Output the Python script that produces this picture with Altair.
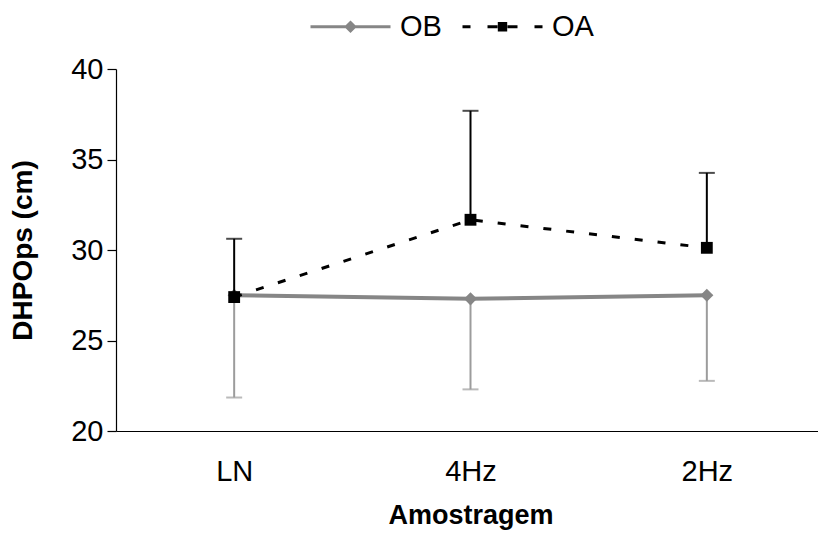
import altair as alt
import pandas as pd

categories = ["LN", "4Hz", "2Hz"]
series_names = ["OB", "OA"]
ob_mean = [27.5, 27.3, 27.5]
ob_low = [21.85, 22.3, 22.77]
oa_mean = [27.4, 31.67, 30.12]
oa_high = [30.62, 37.69, 34.26]

y_ticks = [20, 25, 30, 35, 40]

rows = []
for c, m, e in zip(categories, ob_mean, ob_low):
    rows.append({"cat": c, "series": "OB", "mean": m, "err": e})
for c, m, e in zip(categories, oa_mean, oa_high):
    rows.append({"cat": c, "series": "OA", "mean": m, "err": e})
df = pd.DataFrame(rows)

FONT = "Liberation Sans"
GREY = "#868686"
GREY_ERR = "#9c9c9c"

x_enc = alt.X(
    "cat:N",
    sort=categories,
    scale=alt.Scale(type="point", padding=0.5),
    axis=alt.Axis(
        title="Amostragem",
        labelAngle=0,
        ticks=False,
        labelPadding=26,
        titlePadding=16,
        labelFontSize=29,
        titleFontSize=27,
        labelFont=FONT,
        titleFont=FONT,
        titleFontWeight="bold",
        labelColor="black",
        titleColor="black",
        domainColor="black",
        domainWidth=1.2,
    ),
)
y_scale = alt.Scale(domain=[20, 40], nice=False, zero=False)
y_axis = alt.Axis(
    title="DHPOps (cm)",
    values=y_ticks,
    tickSize=9,
    tickColor="black",
    tickWidth=1.2,
    labelPadding=4,
    titlePadding=33,
    labelFontSize=29,
    titleFontSize=28,
    labelFont=FONT,
    titleFont=FONT,
    titleFontWeight="bold",
    labelColor="black",
    titleColor="black",
    domainColor="black",
    domainWidth=1.2,
    grid=False,
)
y_enc = alt.Y("mean:Q", scale=y_scale, axis=y_axis)

base = alt.Chart(df).encode(x=x_enc)
ob = base.transform_filter(alt.datum.series == "OB")
oa = base.transform_filter(alt.datum.series == "OA")

ob_rule = ob.mark_rule(color=GREY_ERR, strokeWidth=2).encode(y=y_enc, y2="err:Q")
ob_cap = ob.mark_tick(color=GREY_ERR, thickness=2, size=16).encode(y=alt.Y("err:Q", scale=y_scale, axis=y_axis))
oa_rule = oa.mark_rule(color="black", strokeWidth=2).encode(y=y_enc, y2="err:Q")
oa_cap = oa.mark_tick(color="black", thickness=2, size=16).encode(y=alt.Y("err:Q", scale=y_scale, axis=y_axis))

ob_line = ob.mark_line(color=GREY, strokeWidth=4).encode(y=y_enc)
ob_pts = ob.mark_point(shape="diamond", filled=True, size=170, color=GREY, opacity=1).encode(y=y_enc)
oa_line = oa.mark_line(color="black", strokeWidth=3, strokeDash=[8, 15]).encode(y=y_enc)
oa_pts = oa.mark_point(shape="square", filled=True, size=140, color="black", opacity=1).encode(y=y_enc)

path_ob = "M-4,0L4,0M0,-0.42L0.42,0L0,0.42L-0.42,0Z"
path_oa = ("M-4,0L-3.2,0M-1.5,0L-0.5,0M0.5,0L1.5,0M3.2,0L4,0"
           "M-0.32,-0.32L0.32,-0.32L0.32,0.32L-0.32,0.32Z")

legend = alt.Legend(
    title=None,
    orient="none",
    legendX=220,
    legendY=-57,
    direction="horizontal",
    symbolSize=400,
    symbolStrokeWidth=3,
    symbolOpacity=1,
    labelFontSize=29,
    labelFont=FONT,
    labelColor="black",
    labelOffset=35,
    columnPadding=14,
    padding=0,
)

col_scale = alt.Scale(domain=series_names, range=[GREY, "#000000"])
legend_layer = (
    alt.Chart(df)
    .transform_filter("false")
    .mark_point(filled=True, strokeWidth=3)
    .encode(
        x=x_enc,
        y=y_enc,
        fill=alt.Fill("series:N", scale=col_scale, legend=legend),
        stroke=alt.Stroke("series:N", scale=col_scale, legend=legend),
        shape=alt.Shape("series:N", scale=alt.Scale(domain=series_names, range=[path_ob, path_oa]), legend=legend),
    )
)

chart = (
    alt.layer(ob_rule, ob_cap, ob_line, ob_pts, oa_rule, oa_cap, oa_line, oa_pts, legend_layer)
    .properties(
        width=709,
        height=362,
        autosize=alt.AutoSizeParams(type="none"),
        padding={"left": 108, "top": 61, "right": -7, "bottom": 110},
        background="white",
    )
    .configure_view(stroke=None)
)

chart.save("out.html", embed_options={"renderer": "svg", "actions": False})
